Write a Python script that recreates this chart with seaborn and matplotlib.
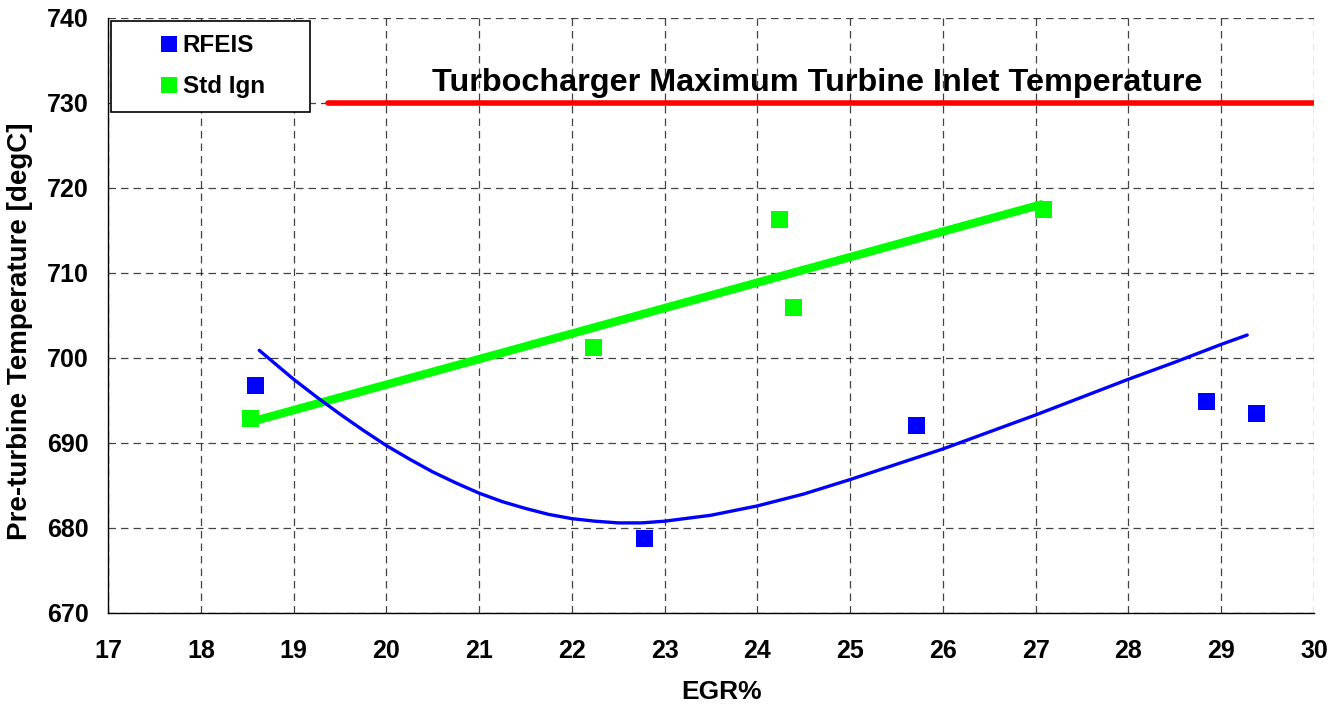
import numpy as np
import pandas as pd
import matplotlib
matplotlib.use("Agg")
import matplotlib.pyplot as plt
from matplotlib.lines import Line2D
import seaborn as sns

# ---- data ----
rfeis_egr = [18.59, 22.78, 25.71, 28.84, 29.38]
rfeis_temp = [696.8, 678.8, 692.0, 694.9, 693.45]

std_egr = [18.54, 22.23, 24.24, 24.39, 27.08]
std_temp = [692.9, 701.2, 716.3, 705.9, 717.5]

# RFEIS trend curve as drawn in the reference
rfeis_trend_egr = [18.63, 19.0, 19.25, 19.5, 19.75, 20.0, 20.25, 20.5, 20.75, 21.0,
                   21.25, 21.5, 21.75, 22.0, 22.25, 22.5, 22.75, 23.0, 23.5, 24.0,
                   24.5, 25.0, 25.5, 26.0, 26.5, 27.0, 27.5, 28.0, 28.5, 29.0, 29.28]
rfeis_trend_temp = [700.9, 697.5, 695.4, 693.4, 691.5, 689.7, 688.1, 686.6, 685.3, 684.1,
                    683.1, 682.3, 681.6, 681.1, 680.8, 680.6, 680.6, 680.8, 681.5, 682.6,
                    684.0, 685.7, 687.5, 689.3, 691.3, 693.3, 695.4, 697.5, 699.5, 701.6,
                    702.7]

limit_egr = [19.37, 30.0]
limit_temp = [730, 730]
limit_label = "Turbocharger Maximum Turbine Inlet Temperature"

x_ticks = list(range(17, 31))
y_ticks = list(range(670, 741, 10))

series_names = ["RFEIS", "Std Ign"]
series_colors = ["#0000FF", "#00FF00"]

# ---- figure ----
sns.set_style("white")
plt.rcParams["font.family"] = ["Liberation Sans", "DejaVu Sans"]
plt.rcParams["font.weight"] = "bold"
plt.rcParams["text.color"] = "black"
plt.rcParams["axes.labelcolor"] = "black"
plt.rcParams["xtick.color"] = "black"
plt.rcParams["ytick.color"] = "black"

fig = plt.figure(figsize=(13.39, 7.05), dpi=100)
ax = fig.add_axes([0.0807, 0.1305, 0.9006, 0.8440])

df_r = pd.DataFrame({"EGR": rfeis_egr, "T": rfeis_temp})
df_s = pd.DataFrame({"EGR": std_egr, "T": std_temp})
df_trend = pd.DataFrame({"EGR": rfeis_trend_egr, "T": rfeis_trend_temp})
df_lim = pd.DataFrame({"EGR": limit_egr, "T": limit_temp})

# limit line
sns.lineplot(data=df_lim, x="EGR", y="T", color="#FF0000", lw=4, ax=ax, zorder=3)
# Std Ign linear trend
sns.regplot(data=df_s, x="EGR", y="T", scatter=False, ci=None, ax=ax,
            line_kws=dict(color=series_colors[1], lw=6, zorder=3, solid_capstyle="butt"))
# RFEIS trend
sns.lineplot(data=df_trend, x="EGR", y="T", color=series_colors[0], lw=2.4, ax=ax,
             sort=False, zorder=4)
# markers
sns.scatterplot(data=df_r, x="EGR", y="T", marker="s", s=150, color=series_colors[0],
                edgecolor="none", ax=ax, zorder=5)
sns.scatterplot(data=df_s, x="EGR", y="T", marker="s", s=150, color=series_colors[1],
                edgecolor="none", ax=ax, zorder=5)

ax.set_xlim(17, 30)
ax.set_ylim(670, 740)
ax.set_xticks(x_ticks)
ax.set_yticks(y_ticks)
ax.set_xticklabels([str(v) for v in x_ticks], fontsize=18, fontweight="bold", color="black")
ax.set_yticklabels([str(v) for v in y_ticks], fontsize=18, fontweight="bold", color="black")
ax.tick_params(axis="both", direction="out", length=8, width=1, color="black", pad=6)
ax.tick_params(axis="x", pad=11)

ax.grid(True, color="#222222", lw=0.9, linestyle=(0, (6, 4)), alpha=0.85)
ax.set_axisbelow(True)
for side in ["top", "right"]:
    ax.spines[side].set_visible(False)
for side in ["left", "bottom"]:
    ax.spines[side].set_color("black")
    ax.spines[side].set_linewidth(1.0)

ax.set_xlabel("EGR%", fontsize=19, fontweight="bold", color="black")
ax.xaxis.set_label_coords(0.509, -0.112)
ax.set_ylabel("Pre-turbine Temperature [degC]", fontsize=20, fontweight="bold", color="black")
ax.yaxis.set_label_coords(-0.062, 0.473)

ax.text(24.64, 732.4, limit_label, ha="center", va="center", fontsize=23.3,
        fontweight="bold", color="black")

handles = [Line2D([], [], marker="s", ls="", color=c, markersize=12, markeredgewidth=0)
           for c in series_colors]
leg = ax.legend(handles, series_names, loc="upper left",
                bbox_to_anchor=(0.0025, 0.995, 0.165, 0.0), mode="expand",
                borderaxespad=0, fancybox=False, frameon=True, edgecolor="black",
                framealpha=1, fontsize=17.5, handlelength=3.7, handletextpad=-1.3,
                borderpad=0.55, labelspacing=0.74)
for t in leg.get_texts():
    t.set_fontweight("bold")
    t.set_color("black")
leg.get_frame().set_linewidth(1.2)
leg.set_zorder(10)

fig.savefig("out.png", dpi=100)
